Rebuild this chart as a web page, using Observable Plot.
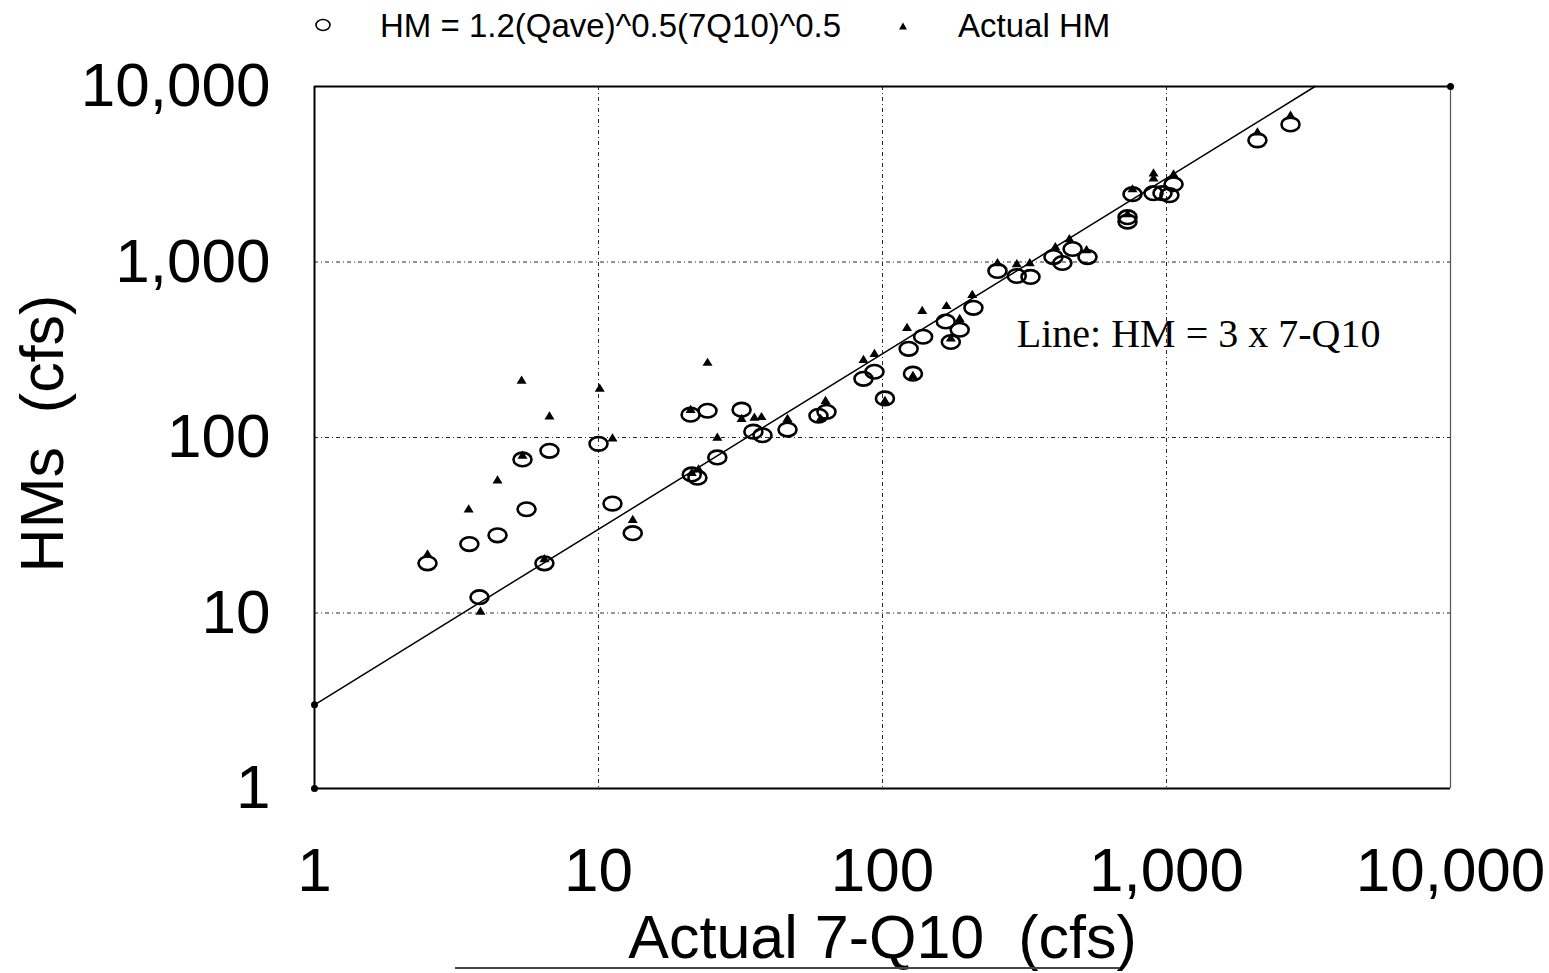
<!DOCTYPE html>
<html><head><meta charset="utf-8">
<script src="https://cdn.jsdelivr.net/npm/d3@7"></script>
<script src="https://cdn.jsdelivr.net/npm/@observablehq/plot@0.6"></script>
<style>
body{margin:0;background:#fff;font-family:"Liberation Sans",Arial,sans-serif;}
#wrap{position:relative;width:1549px;height:973px;overflow:hidden;background:#fff}
#legend{display:block}
#chart svg{display:block}
#underline{position:absolute;left:455px;top:967px;width:665px;height:2px;background:#444}
</style></head><body>
<div id="wrap">
<svg id="legend" width="1549" height="50">
  <ellipse cx="323" cy="25" rx="7" ry="5.5" fill="none" stroke="#000" stroke-width="1.6"/>
  <text x="380" y="37" font-family="Liberation Sans, Arial, sans-serif" font-size="33" fill="#000">HM = 1.2(Qave)^0.5(7Q10)^0.5</text>
  <polygon points="903,22.5 907,29.5 899,29.5" fill="#000"/>
  <text x="958" y="37" font-family="Liberation Sans, Arial, sans-serif" font-size="33" fill="#000">Actual HM</text>
</svg>
<div id="chart"></div>
<div id="underline"></div>
</div>
<script>
// Tick values
const axisTicks = [1, 10, 100, 1000, 10000];
const gridTicks = [10, 100, 1000];

// Series 1: HM = 1.2(Qave)^0.5(7Q10)^0.5 (open circles)
const circleQ  = [2.5, 3.51, 3.81, 4.41, 5.4, 5.58, 6.45, 6.72, 10, 11.2, 13.2, 21.1, 21.3, 22.3, 24.2, 26.2, 31.9, 35.1, 37.8, 46.3, 59.5, 63.5, 85.7, 93.7, 102, 123.6, 128, 139, 167, 174, 187, 209, 254, 297, 332, 400, 430, 467, 527, 729, 729, 759, 900, 968, 1024, 1059, 2090, 2733];
const circleHM = [19.2, 24.7, 12.3, 27.7, 75, 39, 19.2, 84, 92, 42, 28.5, 135, 61.6, 59, 142, 77, 144, 108, 103, 111, 133, 140, 216, 237, 167, 320, 231, 375, 458, 350, 411, 548, 889, 832, 822, 1067, 987, 1186, 1067, 1700, 1800, 2434, 2466, 2466, 2403, 2774, 4932, 6083];

// Series 2: Actual HM (filled triangles)
const triQ  = [2.5, 3.49, 3.84, 4.41, 5.36, 5.4, 6.45, 6.72, 10.1, 11.2, 13.2, 21.1, 21.3, 22.5, 24.2, 26.2, 31.9, 35.4, 37.5, 46.3, 60.5, 63, 85.7, 93.7, 102, 122, 128, 138, 168, 174, 187, 207, 254, 297, 330, 406, 455, 523, 729, 759, 900, 900, 1059, 2090, 2733];
const triHM = [21.6, 39, 10.2, 57, 211, 79, 20.3, 132, 190, 99, 34, 144, 63, 66, 267, 100, 128, 130, 131, 128, 128, 162, 277, 300, 162, 422, 225, 527, 562, 368, 475, 650, 987, 975, 987, 1217, 1352, 1170, 1874, 2600, 3206, 3000, 3162, 5478, 6840];

// Reference line HM = 3 x 7-Q10
const lineQ  = [1, 3333];
const lineHM = [3, 10000];

// Corner / endpoint markers
const markerQ  = [1, 1, 10000];
const markerHM = [3, 1, 10000];

// Annotation
const noteText = ["Line: HM = 3 x 7-Q10"];
const noteQ = [297];
const noteHM = [390];

const xTitle = "Actual 7-Q10 \u00a0(cfs)";
const yTitle = "HMs \u00a0(cfs)";

const circles = circleQ.map((q, i) => ({q, hm: circleHM[i]}));
const tris = triQ.map((q, i) => ({q, hm: triHM[i]}));
const lineData = lineQ.map((q, i) => ({q, hm: lineHM[i]}));
const markers = markerQ.map((q, i) => ({q, hm: markerHM[i]}));
const notes = noteText.map((t, i) => ({t, q: noteQ[i], hm: noteHM[i]}));

const ellipseSymbol = {
  draw(ctx) {
    const rx = 9, ry = 6.8, k = 0.5523;
    ctx.moveTo(rx, 0);
    ctx.bezierCurveTo(rx, ry * k, rx * k, ry, 0, ry);
    ctx.bezierCurveTo(-rx * k, ry, -rx, ry * k, -rx, 0);
    ctx.bezierCurveTo(-rx, -ry * k, -rx * k, -ry, 0, -ry);
    ctx.bezierCurveTo(rx * k, -ry, rx, -ry * k, rx, 0);
    ctx.closePath();
  }
};
const triSymbol = {
  draw(ctx) {
    ctx.moveTo(0, -5);
    ctx.lineTo(5, 3.2);
    ctx.lineTo(-5, 3.2);
    ctx.closePath();
  }
};

const gridStyle = {stroke: "#111", strokeOpacity: 0.9, strokeWidth: 1, strokeDasharray: "4,3,1,3"};
const fontFamily = "Liberation Sans, Arial, sans-serif";

const chart = Plot.plot({
  width: 1549,
  height: 923,
  marginLeft: 314,
  marginRight: 99,
  marginTop: 36,
  marginBottom: 185,
  style: {fontFamily, background: "white", color: "black", overflow: "visible"},
  x: {type: "log", domain: [1, 10000]},
  y: {type: "log", domain: [1, 10000]},
  marks: [
    Plot.gridX(gridTicks, gridStyle),
    Plot.gridY(gridTicks, gridStyle),
    Plot.ruleX([1], {stroke: "black", strokeWidth: 2}),
    Plot.ruleX([10000], {stroke: "#555", strokeWidth: 1.2}),
    Plot.ruleY([1], {stroke: "black", strokeWidth: 2}),
    Plot.ruleY([10000], {stroke: "black", strokeWidth: 2}),
    Plot.line(lineData, {x: "q", y: "hm", stroke: "black", strokeWidth: 1.5}),
    Plot.dot(circles, {x: "q", y: "hm", symbol: ellipseSymbol, stroke: "black", strokeWidth: 2.6, fill: "none"}),
    Plot.dot(tris, {x: "q", y: "hm", symbol: triSymbol, fill: "black", stroke: "none"}),
    Plot.dot(markers, {x: "q", y: "hm", r: 3.5, fill: "black", stroke: "none"}),
    Plot.text(notes, {x: "q", y: "hm", text: "t", textAnchor: "start", lineAnchor: "middle", fontSize: 40, fontFamily: "Liberation Serif, Times New Roman, serif", fill: "black"}),
    Plot.axisX(axisTicks, {tickFormat: d3.format(","), tickSize: 0, tickPadding: 58, fontSize: 62, label: null}),
    Plot.axisY(axisTicks, {tickFormat: d3.format(","), tickSize: 0, tickPadding: 44, fontSize: 62, label: null}),
    Plot.text([xTitle], {text: d => d, frameAnchor: "bottom", textAnchor: "middle", lineAnchor: "middle", dy: 149.5, fontSize: 61, fill: "black"}),
    Plot.text([yTitle], {text: d => d, frameAnchor: "left", rotate: -90, textAnchor: "middle", lineAnchor: "middle", dx: -271.5, dy: -4, fontSize: 61, fill: "black"})
  ]
});
document.getElementById("chart").appendChild(chart);
</script>
</body></html>
